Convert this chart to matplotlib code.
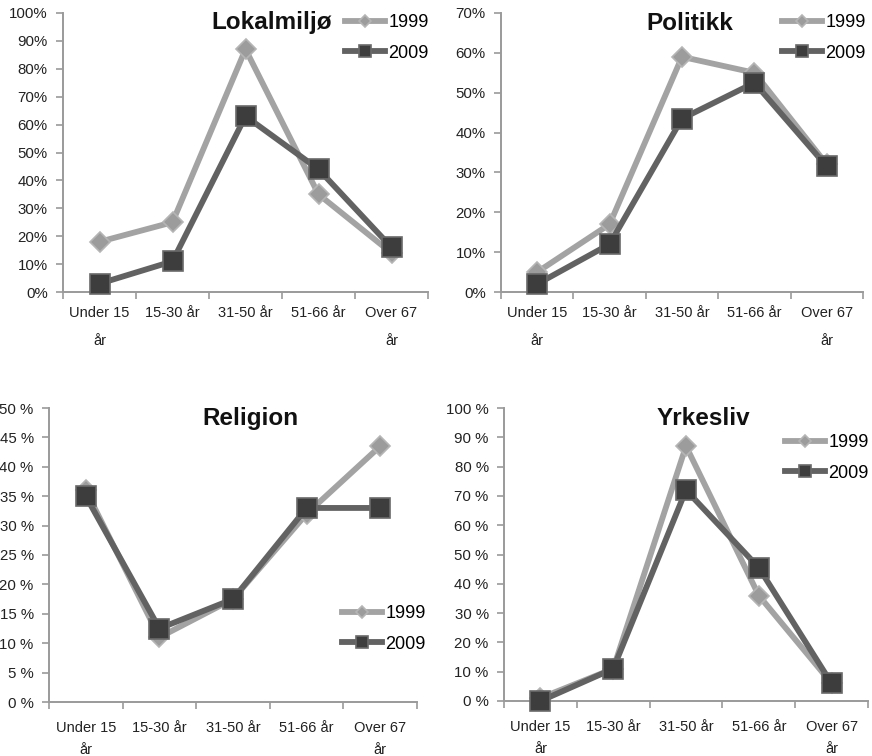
import matplotlib
matplotlib.use("Agg")
import matplotlib.pyplot as plt
from matplotlib.ticker import FixedLocator

plt.rcParams["font.family"] = ["Liberation Sans", "DejaVu Sans"]

W, H = 872, 756

categories = ["Under 15\når", "15-30 år", "31-50 år", "51-66 år", "Over 67\når"]
series_names = ["1999", "2009"]

lokalmiljo_1999 = [18, 25, 87, 35, 14]
lokalmiljo_2009 = [3, 11, 63, 44, 16]
politikk_1999 = [5, 17, 59, 55, 32]
politikk_2009 = [2, 12, 43.5, 52.5, 31.5]
religion_1999 = [36, 11, 17.5, 32, 43.5]
religion_2009 = [35, 12.5, 17.5, 33, 33]
yrkesliv_1999 = [1, 11, 87, 36, 6]
yrkesliv_2009 = [0, 11, 72, 45.5, 6]

LIGHT = "#a3a3a3"
DARK = "#626262"
AXIS = "#9a9a9a"


def px_rect(l, t, r, b):
    return [l / W, 1 - b / H, (r - l) / W, (b - t) / H]


panels = [
    # title, y1999, y2009, ymax, ystep, fmt, axes px, title px, legend px, xlabel pad, linespacing
    ("Lokalmiljø", lokalmiljo_1999, lokalmiljo_2009, 100, 10, "{}%",
     (63, 13, 428, 292), (272, 23), (345, 14), 10, 2.3),
    ("Politikk", politikk_1999, politikk_2009, 70, 10, "{}%",
     (501, 13, 863, 292), (690, 23), (782, 14), 10, 2.3),
    ("Religion", religion_1999, religion_2009, 50, 5, "{} %",
     (49, 408, 417, 702), (250, 419), (342, 605), 14, 1.65),
    ("Yrkesliv", yrkesliv_1999, yrkesliv_2009, 100, 10, "{} %",
     (504, 408, 868, 701), (703, 419), (785, 434), 14, 1.65),
]

fig = plt.figure(figsize=(W / 100, H / 100), dpi=100)

for title, y99, y09, ymax, ystep, fmt, rect, tpos, lpos, xpad, lsp in panels:
    ax = fig.add_axes(px_rect(*rect))
    x = list(range(len(categories)))
    ax.plot(x, y99, color=LIGHT, lw=4.2, marker="D", ms=10,
            mfc="#9c9c9c", mec="#b5b5b5", mew=1.2, label=series_names[0], zorder=3)
    ax.plot(x, y09, color=DARK, lw=4.2, marker="s", ms=14,
            mfc="#3d3d3d", mec="#6a6a6a", mew=1.2, label=series_names[1], zorder=4)
    ax.set_xlim(-0.5, len(categories) - 0.5)
    ax.set_ylim(0, ymax)
    ticks = list(range(0, ymax + 1, ystep))
    ax.set_yticks(ticks)
    ax.set_yticklabels([fmt.format(t) for t in ticks])
    ax.set_xticks(x)
    ax.set_xticklabels(categories, linespacing=lsp)
    ax.xaxis.set_minor_locator(FixedLocator([i - 0.5 for i in range(len(categories) + 1)]))
    ax.tick_params(axis="x", which="major", length=0, pad=xpad, labelsize=10.5, colors="#222222")
    ax.tick_params(axis="x", which="minor", length=5, width=1.2, color=AXIS)
    ax.tick_params(axis="y", length=5, width=1.2, color=AXIS, pad=6,
                   labelsize=10.8, labelcolor="#222222")
    for s in ("top", "right"):
        ax.spines[s].set_visible(False)
    for s in ("left", "bottom"):
        ax.spines[s].set_color(AXIS)
        ax.spines[s].set_linewidth(1.4)
    for lab in ax.get_xticklabels():
        lab.set_horizontalalignment("center")
    for ln in ax.lines:
        ln.set_clip_on(False)

    fig.text(tpos[0] / W, 1 - tpos[1] / H, title, ha="center", va="center",
             fontsize=17.5, fontweight="bold", color="#111111")
    ax.legend(loc="upper left", bbox_to_anchor=(lpos[0] / W, 1 - lpos[1] / H),
              bbox_transform=fig.transFigure, frameon=False, borderpad=0,
              borderaxespad=0, handlelength=2.2, handletextpad=0.2,
              labelspacing=0.75, fontsize=13, markerscale=0.65)

fig.savefig("out.png", dpi=100)
